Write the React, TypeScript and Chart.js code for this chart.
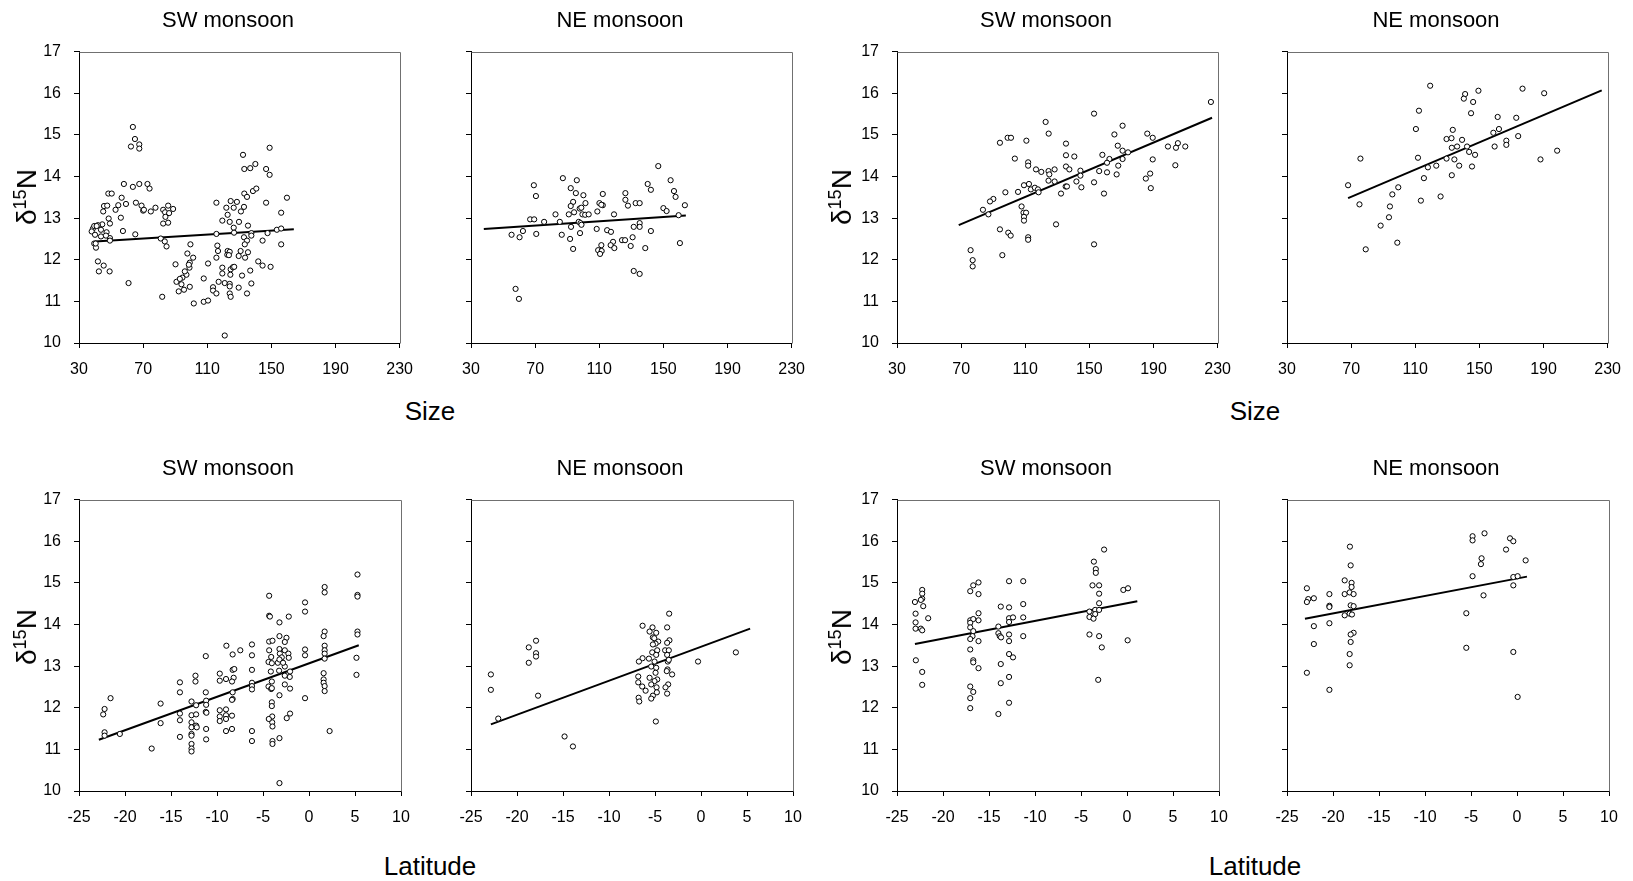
import React, { useEffect, useRef } from "react";
import { Chart, registerables } from "chart.js";

Chart.register(...registerables);

type Pt = [number, number];

// ---------- tick labels ----------
const sizeTicks = [30, 70, 110, 150, 190, 230];
const latTicks = [-25, -20, -15, -10, -5, 0, 5, 10];
const d15NTicks = [10, 11, 12, 13, 14, 15, 16, 17];

// ---------- titles ----------
const seasonTitles = ["SW monsoon", "NE monsoon", "SW monsoon", "NE monsoon"];
const xTitles = ["Size", "Latitude"];

// ---------- Size panels, group A ----------
const sizeA_SW: Pt[] = [
  [63.6,15.19],[64.9,14.9],[62.4,14.72],[67.6,14.77],[67.6,14.67],[132.3,14.52],[148.9,14.69],[140,14.3],[136.8,14.2],[133.1,14.18],[146.7,14.18],[148.9,14.04],[58,13.82],[63.6,13.75],[67.6,13.82],[72.7,13.82],[74,13.71],[133.1,13.59],[134.8,13.51],[138.5,13.65],[140.6,13.71],[159.7,13.49],[48.3,13.59],[50.4,13.59],[56.6,13.49],[54.5,13.31],[59.3,13.34],[45.6,13.29],[47.6,13.3],[52.8,13.2],[45.1,13.16],[65.5,13.37],[69,13.3],[70,13.18],[70.5,13.2],[74.8,13.16],[77.7,13.25],[82.5,13.2],[85.6,13.3],[88.7,13.22],[83.7,13.14],[86.2,13.12],[83.9,13.03],[82.5,12.87],[85.6,12.89],[56.1,13.01],[48.5,12.99],[49.3,12.87],[44.5,12.85],[115.7,13.37],[124.6,13.41],[128.5,13.39],[121.9,13.25],[126.5,13.25],[132.9,13.27],[131,13.16],[122.7,13.08],[156.1,13.13],[146.7,13.37],[119.4,12.94],[124,12.91],[129.8,12.91],[126.5,12.77],[135.4,12.82],[115.7,12.62],[126.7,12.65],[137.5,12.64],[137.5,12.58],[132.9,12.54],[147.6,12.64],[153.4,12.72],[156.1,12.75],[144.5,12.46],[156.1,12.37],[134.8,12.46],[133.4,12.37],[116.3,12.34],[116.7,12.21],[122.7,12.21],[124,12.19],[122.5,12.12],[123.5,12.11],[130.8,12.21],[135.4,12.18],[129.6,12.09],[133.6,12.05],[115.7,12.05],[119.4,11.81],[119.4,11.67],[124.6,11.77],[126,11.82],[126.8,11.83],[124.4,11.64],[141.8,11.96],[144.5,11.86],[149.5,11.83],[136.8,11.74],[131.7,11.62],[110.5,11.91],[107.8,11.55],[113.6,11.34],[113.6,11.26],[115.7,11.19],[117.1,11.47],[120.9,11.44],[124,11.42],[124,11.36],[124,11.19],[124.6,11.11],[129.6,11.33],[137.5,11.43],[134.8,11.19],[107.8,10.99],[110.5,11.02],[101.6,10.95],[120.9,10.18],[99.5,12.37],[101.2,12.05],[97.6,12.15],[99.1,11.93],[98.9,11.81],[98.5,11.88],[97,11.64],[96,11.72],[94.5,11.57],[90.2,11.89],[90.8,11.47],[92.9,11.54],[93.9,11.41],[95.5,11.28],[92.2,11.24],[99.1,11.35],[81.9,11.11],[60.9,11.44],[41.8,11.96],[42.4,11.72],[45.4,11.86],[49.1,11.72],[39.5,12.39],[40.6,12.29],[43.7,12.56],[47.2,12.66],[49.3,12.52],[49.3,12.46],[46.8,12.58],[57.4,12.69],[65.1,12.61],[81,12.51],[83.5,12.44],[84.6,12.32],[43.7,12.72],[41.8,12.83],[38.7,12.75],[37.9,12.68],[39.5,12.81],[41,12.81],[40,12.6],[40.4,12.39]
];
const sizeA_SW_fit: Pt[] = [[40, 12.44], [164, 12.73]];

const sizeA_NE: Pt[] = [
  [146.8,14.25],[87.3,13.96],[96,13.91],[154.5,13.91],[69.2,13.79],[140.2,13.82],[142.2,13.68],[92.2,13.72],[95.4,13.6],[112.2,13.58],[126.3,13.6],[156.6,13.65],[157.6,13.51],[70.5,13.53],[100.1,13.55],[126.3,13.44],[93.7,13.39],[101.4,13.36],[110.1,13.36],[112.2,13.31],[111.3,13.32],[92.2,13.29],[127.9,13.3],[132.7,13.36],[135.2,13.36],[150,13.24],[152,13.17],[163.4,13.31],[97.8,13.23],[98.8,13.25],[94.3,13.14],[91,13.09],[82.7,13.09],[99.5,13.09],[101.2,13.08],[103.4,13.09],[108.8,13.16],[119.2,13.09],[159.5,13.07],[66.9,12.97],[69.4,12.97],[75.6,12.91],[85.4,12.91],[97.2,12.91],[98.3,12.88],[98.9,12.84],[92.4,12.79],[131.5,12.79],[135.2,12.88],[135.2,12.79],[108.4,12.74],[114.9,12.71],[117.3,12.67],[142.2,12.69],[62.4,12.69],[55.3,12.6],[60.3,12.54],[70.7,12.62],[86.6,12.6],[98,12.64],[91.8,12.5],[124.2,12.47],[126.1,12.47],[118.6,12.43],[130.8,12.54],[160.3,12.4],[117.1,12.35],[111.3,12.35],[119.4,12.28],[129.6,12.33],[138.7,12.28],[93.7,12.26],[109.3,12.23],[111.5,12.21],[110.5,12.14],[131.5,11.73],[135.2,11.66],[57.8,11.3],[59.9,11.06]
];
const sizeA_NE_fit: Pt[] = [[38, 12.74], [164, 13.06]];

// ---------- Size panels, group B ----------
const sizeB_SW: Pt[] = [
  [152.9,15.51],[122.7,15.31],[124.6,15.03],[170.7,15.22],[186.1,15.03],[165.6,15.01],[189.5,14.93],[94.2,14.81],[99,14.93],[101.1,14.93],[110.7,14.86],[135.4,14.79],[167.7,14.74],[170.7,14.62],[174.1,14.58],[199,14.72],[205.2,14.8],[204,14.69],[209.8,14.72],[135.4,14.51],[140.6,14.48],[158.1,14.52],[162.5,14.42],[170.7,14.42],[103.5,14.43],[111.8,14.34],[111.8,14.26],[161,14.33],[135.4,14.24],[137.5,14.17],[116.7,14.17],[120,14.11],[124.5,14.13],[128.3,14.17],[144.4,14.14],[156.1,14.13],[161,14.1],[168,14.26],[189.5,14.41],[203.6,14.27],[125,14.05],[144.4,14.02],[167,14.05],[187.9,14.07],[185.2,13.95],[124.5,13.9],[128.3,13.88],[141.9,13.88],[152.9,13.86],[109.2,13.79],[112.3,13.82],[113.5,13.69],[116,13.73],[117.9,13.69],[118.3,13.62],[105.5,13.63],[97.6,13.62],[135.2,13.76],[136,13.76],[145,13.74],[132.3,13.59],[159.1,13.59],[188.3,13.72],[90.1,13.46],[88,13.4],[83.6,13.2],[87,13.09],[107.7,13.28],[108.9,13.13],[110.5,13.13],[109.2,13.03],[109.2,12.94],[129.2,12.85],[94.2,12.73],[99.4,12.65],[100.9,12.58],[111.8,12.54],[111.8,12.48],[152.9,12.37],[75.9,12.23],[95.7,12.11],[77.2,11.99],[77.2,11.84],[225.8,15.79]
];
const sizeB_SW_fit: Pt[] = [[68.5, 12.83], [226.5, 15.41]];

const sizeB_NE: Pt[] = [
  [119.3,16.18],[176.9,16.11],[149.4,16.06],[141.1,15.98],[190.4,16],[140.3,15.87],[146.1,15.79],[112.3,15.58],[144.8,15.52],[161.4,15.43],[173,15.41],[110.4,15.14],[133.4,15.12],[162.2,15.14],[158.7,15.05],[174.2,14.97],[129.5,14.9],[132.6,14.92],[139.2,14.88],[166.8,14.86],[166.8,14.76],[142.3,14.72],[132.8,14.69],[136.1,14.72],[159.5,14.72],[143.6,14.59],[147.3,14.52],[198.5,14.62],[111.7,14.45],[129.5,14.43],[134.4,14.41],[188.1,14.41],[75.8,14.43],[117.9,14.22],[123.1,14.26],[137.4,14.26],[145.4,14.24],[115.4,13.96],[132.8,14.03],[68.1,13.79],[99.4,13.74],[95.7,13.57],[125.8,13.52],[113.5,13.42],[75.2,13.33],[94.2,13.28],[93.6,13.02],[88.4,12.82],[98.8,12.41],[79.1,12.25]
];
const sizeB_NE_fit: Pt[] = [[68.1, 13.48], [226.3, 16.07]];

// ---------- Latitude panels, group A ----------
const latA_SW: Pt[] = [
  [5.27,15.2],[1.7,14.9],[1.7,14.77],[5.27,14.71],[5.27,14.67],[-4.33,14.69],[-0.43,14.53],[-0.43,14.31],[-4.33,14.21],[-4.25,14.19],[-2.2,14.19],[-3.21,14.05],[1.7,13.83],[5.27,13.83],[5.27,13.76],[1.59,13.72],[1.7,13.49],[-3.21,13.72],[-2.45,13.68],[-4.33,13.59],[-3.97,13.61],[-2.63,13.58],[-6.2,13.52],[-8.98,13.49],[-7.47,13.38],[-8.3,13.28],[-6.2,13.26],[-11.22,13.24],[-0.43,13.4],[-0.43,13.26],[-3.21,13.41],[-4.33,13.38],[-2.63,13.38],[-2.24,13.3],[-2.2,13.2],[-3.17,13.3],[-2.96,13.21],[1.7,13.38],[1.7,13.3],[1.7,13.18],[5.16,13.2],[-4.11,13.22],[-4.4,13.1],[-4.04,13.07],[-3.39,13.08],[-3.21,13.16],[-4.15,12.87],[-3.25,12.89],[-2.63,12.99],[-2.06,12.87],[-6.2,12.91],[-8.3,12.91],[-8.12,12.93],[-9.7,12.82],[-9.02,12.69],[-8.19,12.72],[-8.37,12.63],[-9.7,12.65],[-12.34,12.77],[-12.34,12.63],[-14.03,12.61],[-2.63,12.77],[-2.09,12.74],[-4.04,12.63],[-4.4,12.51],[-4.11,12.45],[-4.04,12.47],[-2.63,12.56],[-2.06,12.46],[-6.2,12.6],[-6.2,12.52],[-6.2,12.44],[1.59,12.83],[1.59,12.68],[1.59,12.6],[1.7,12.52],[1.7,12.4],[5.16,12.79],[-8.3,12.37],[-11.22,12.37],[-14.03,12.37],[-8.3,12.21],[-8.37,12.19],[-0.43,12.23],[-3.21,12.3],[-4.04,12.13],[-4.04,12.04],[-12.27,12.06],[-11.18,12.17],[-11.18,12.07],[-12.77,12.15],[-16.13,12.1],[-21.57,12.23],[-22.22,11.97],[-22.37,11.84],[-14.03,11.86],[-14.03,11.7],[-12.77,11.82],[-12.27,11.84],[-11.22,11.9],[-11.15,11.88],[-9.7,11.94],[-9.7,11.79],[-9.7,11.68],[-9.02,11.96],[-9.02,11.82],[-9.02,11.73],[-8.37,11.81],[-8.37,11.49],[-9.02,11.44],[-4,11.79],[-4,11.65],[-3.97,11.55],[-4.37,11.73],[-2.42,11.75],[-2.06,11.86],[-16.13,11.63],[-12.77,11.65],[-12.77,11.53],[-12.27,11.57],[-12.2,11.53],[-11.18,11.49],[-12.77,11.37],[-12.77,11.33],[-14.03,11.3],[-12.77,11.13],[-12.77,11.02],[-12.77,10.95],[-11.18,11.24],[-6.2,11.44],[-6.2,11.2],[-3.97,11.2],[-3.97,11.13],[-3.21,11.27],[2.24,11.44],[-22.22,11.41],[-22.22,11.33],[-20.56,11.37],[-17.1,11.02],[-3.21,10.19],[-2.82,13.08]
];
const latA_SW_fit: Pt[] = [[-22.84, 11.23], [5.41, 13.5]];

const latA_NE: Pt[] = [
  [-3.46,14.26],[-6.35,13.97],[-5.27,13.93],[-3.68,13.93],[-5.59,13.83],[-4.87,13.8],[-5.23,13.69],[-5.08,13.67],[-3.43,13.62],[-4.65,13.59],[-3.68,13.56],[-4.94,13.54],[-5.23,13.52],[-3.9,13.38],[-3.5,13.38],[-4.76,13.38],[-5.3,13.33],[-3.68,13.27],[-4.87,13.27],[-6.35,13.19],[-5.66,13.18],[-6.75,13.11],[-3.61,13.11],[-3.5,13.15],[-5.05,13.11],[-5.41,12.99],[-4.87,12.96],[-3.64,12.92],[-3.72,12.88],[-3.14,12.8],[-4.94,12.84],[-6.82,12.75],[-5.59,12.72],[-4.76,12.68],[-5.05,12.64],[-6.82,12.61],[-5.41,12.56],[-3.57,12.56],[-4.83,12.49],[-6.39,12.51],[-3.86,12.49],[-6.02,12.41],[-4.8,12.37],[-3.68,12.34],[-5.23,12.29],[-5.41,12.22],[-6.78,12.24],[-6.71,12.15],[-4.91,11.67],[3.79,13.33],[-0.32,13.11],[-17.93,13.61],[-18.72,13.45],[-17.93,13.31],[-17.93,13.23],[-18.72,13.08],[-22.84,12.8],[-22.84,12.43],[-17.71,12.29],[-22.04,11.74],[-14.83,11.31],[-13.92,11.07]
];
const latA_NE_fit: Pt[] = [[-22.84, 11.6], [5.34, 13.9]];

// ---------- Latitude panels, group B ----------
const latB_SW: Pt[] = [
  [-2.49,15.8],[-3.6,15.51],[-3.39,15.33],[-3.39,15.24],[-16.14,15.01],[-16.71,14.94],[-12.82,15.04],[-11.28,15.04],[-3.75,14.94],[-3.03,14.94],[-3.03,14.74],[-0.4,14.83],[0.11,14.87],[-22.26,14.83],[-22.26,14.74],[-17.04,14.8],[-16.14,14.73],[-22.26,14.62],[-22.41,14.59],[-23.05,14.54],[-3.03,14.51],[-11.28,14.49],[-22.15,14.44],[-13.72,14.43],[-12.82,14.41],[-3.46,14.35],[-3.03,14.35],[-4.08,14.31],[-22.98,14.26],[-16.14,14.27],[-3.46,14.25],[-4.08,14.18],[-3.64,14.14],[-12.82,14.15],[-12.39,14.17],[-11.28,14.17],[-21.61,14.15],[-16.14,14.1],[-17.04,14.1],[-16.71,14.13],[-12.82,14.06],[-22.98,14.05],[-17.04,14.04],[-17.04,13.93],[-13.98,13.95],[-22.98,13.9],[-22.41,13.9],[-22.26,13.86],[-16.71,13.84],[-13.98,13.79],[-12.82,13.76],[-13.83,13.72],[-13.69,13.69],[-16.79,13.72],[-17.04,13.65],[-11.28,13.72],[-4.08,13.76],[-3.03,13.72],[-12.82,13.6],[-16.14,13.6],[0.07,13.62],[-2.74,13.45],[-17.04,13.4],[-12.82,13.29],[-12.39,13.21],[-22.95,13.14],[-16.71,13.14],[-16.71,13.09],[-13.72,13.05],[-16.14,12.95],[-22.26,12.86],[-12.82,12.74],[-3.13,12.67],[-13.72,12.59],[-22.26,12.55],[-17.04,12.51],[-16.71,12.38],[-17.04,12.23],[-12.82,12.12],[-17.04,11.99],[-13.98,11.85]
];
const latB_SW_fit: Pt[] = [[-23.05, 13.53], [1.12, 14.56]];

const latB_NE: Pt[] = [
  [-3.53,16.19],[-4.83,16.12],[-4.83,16.02],[-0.76,16.07],[-0.4,16],[-1.19,15.8],[0.94,15.54],[-3.85,15.59],[-3.92,15.45],[-18.16,15.87],[-18.08,15.42],[-4.83,15.16],[-0.4,15.14],[0.07,15.16],[-0.4,14.94],[-18.73,15.06],[-17.98,15],[-17.98,14.9],[-22.84,14.87],[-22.69,14.61],[-22.84,14.54],[-22.08,14.63],[-20.39,14.73],[-18.73,14.73],[-18.19,14.77],[-17.76,14.73],[-3.64,14.7],[-20.39,14.45],[-20.39,14.42],[-18.08,14.46],[-17.76,14.44],[-18.73,14.22],[-18.19,14.26],[-17.94,14.24],[-5.51,14.27],[-20.39,14.03],[-22.08,13.96],[-17.76,13.8],[-18.08,13.76],[-18.08,13.58],[-22.08,13.53],[-5.51,13.44],[-0.4,13.34],[-18.19,13.29],[-18.19,13.02],[-22.84,12.84],[-20.39,12.43],[0.07,12.26]
];
const latB_NE_fit: Pt[] = [[-23.05, 14.14], [1.08, 15.15]];

// ---------- layout ----------
const FONT = "'Liberation Sans', Arial, Helvetica, sans-serif";
const COL_LEFT = [79, 471, 897, 1287];
const ROW_TOP = [43, 491];
const PLOT_W = 322;
const PLOT_H = 300;
const PAD_L = 50;
const PAD_R = 24;
const PAD_T = 14;
const PAD_B = 44;

Chart.defaults.font.family = FONT;
Chart.defaults.color = "#000";

interface PanelSpec {
  row: number;
  col: number;
  points: Pt[];
  fit: Pt[];
  xTicks: number[];
}

const panels: PanelSpec[] = [
  { row: 0, col: 0, points: sizeA_SW, fit: sizeA_SW_fit, xTicks: sizeTicks },
  { row: 0, col: 1, points: sizeA_NE, fit: sizeA_NE_fit, xTicks: sizeTicks },
  { row: 0, col: 2, points: sizeB_SW, fit: sizeB_SW_fit, xTicks: sizeTicks },
  { row: 0, col: 3, points: sizeB_NE, fit: sizeB_NE_fit, xTicks: sizeTicks },
  { row: 1, col: 0, points: latA_SW, fit: latA_SW_fit, xTicks: latTicks },
  { row: 1, col: 1, points: latA_NE, fit: latA_NE_fit, xTicks: latTicks },
  { row: 1, col: 2, points: latB_SW, fit: latB_SW_fit, xTicks: latTicks },
  { row: 1, col: 3, points: latB_NE, fit: latB_NE_fit, xTicks: latTicks },
];

const framePlugin = {
  id: "frame",
  afterDraw(chart: any) {
    const { ctx, chartArea: a } = chart;
    ctx.save();
    ctx.strokeStyle = "#707070";
    ctx.lineWidth = 1;
    ctx.beginPath();
    ctx.moveTo(Math.round(a.left) + 0.5, Math.round(a.top) + 0.5);
    ctx.lineTo(Math.round(a.right) + 0.5, Math.round(a.top) + 0.5);
    ctx.lineTo(Math.round(a.right) + 0.5, Math.round(a.bottom) + 0.5);
    ctx.stroke();
    ctx.restore();
  },
};

function Panel({ spec }: { spec: PanelSpec }) {
  const ref = useRef<HTMLCanvasElement>(null);
  const W = PAD_L + PLOT_W + PAD_R;
  const H = PAD_T + PLOT_H + PAD_B;
  const left = COL_LEFT[spec.col] - PAD_L;
  const top = ROW_TOP[spec.row] - PAD_T;
  const showY = spec.col === 0 || spec.col === 2;
  const xPadding = 12;

  useEffect(() => {
    if (!ref.current) return;
    const xt = spec.xTicks;
    const chart = new Chart(ref.current, {
      type: "scatter",
      data: {
        datasets: [
          {
            data: spec.points.map(([x, y]) => ({ x, y })),
            pointRadius: 2.6,
            pointBorderWidth: 1,
            pointBorderColor: "#000",
            pointBackgroundColor: "#fff",
            showLine: false,
            order: 0,
          } as any,
          {
            data: spec.fit.map(([x, y]) => ({ x, y })),
            showLine: true,
            borderColor: "#000",
            borderWidth: 2,
            pointRadius: 0,
            fill: false,
            order: 1,
          } as any,
        ],
      },
      options: {
        responsive: false,
        maintainAspectRatio: false,
        animation: false,
        devicePixelRatio: 1,
        layout: { padding: { top: PAD_T, right: PAD_R, left: 0, bottom: 0 } },
        plugins: { legend: { display: false }, tooltip: { enabled: false }, title: { display: false } },
        scales: {
          x: {
            type: "linear",
            min: xt[0],
            max: xt[xt.length - 1],
            afterBuildTicks: (s: any) => {
              s.ticks = xt.map((v) => ({ value: v }));
            },
            afterFit: (s: any) => {
              s.height = PAD_B;
            },
            ticks: { color: "#000", font: { size: 16, family: FONT }, padding: xPadding, maxRotation: 0, autoSkip: false },
            grid: { drawOnChartArea: false, drawTicks: true, tickLength: 5, color: "#000", lineWidth: 1 },
            border: { display: true, color: "#000", width: 1 },
          },
          y: {
            type: "linear",
            min: d15NTicks[0],
            max: d15NTicks[d15NTicks.length - 1],
            afterBuildTicks: (s: any) => {
              s.ticks = d15NTicks.map((v) => ({ value: v }));
            },
            afterFit: (s: any) => {
              s.width = PAD_L;
            },
            ticks: {
              color: "#000",
              font: { size: 16, family: FONT },
              padding: 13,
              autoSkip: false,
              callback: (v: any) => (showY ? String(v) : ""),
            },
            grid: { drawOnChartArea: false, drawTicks: true, tickLength: 5, color: "#000", lineWidth: 1 },
            border: { display: true, color: "#000", width: 1 },
          },
        },
      } as any,
      plugins: [framePlugin],
    });
    return () => chart.destroy();
  }, []);

  return (
    <canvas
      ref={ref}
      width={W}
      height={H}
      style={{ position: "absolute", left, top, width: W, height: H }}
    />
  );
}

const textStyle: React.CSSProperties = {
  position: "absolute",
  fontFamily: FONT,
  color: "#000",
  whiteSpace: "nowrap",
  lineHeight: 1,
  transform: "translate(-50%, -50%)",
};

export default function App() {
  const titleY = [20, 468];
  const xTitleY = [411, 866];
  const xTitleX = [430, 1255];
  const yTitleX = [27, 842];
  const yTitleY = [197, 637];

  return (
    <div style={{ position: "absolute", left: 0, top: 0, width: 1633, height: 881, background: "#fff", overflow: "hidden" }}>
      {panels.map((p, i) => (
        <Panel key={i} spec={p} />
      ))}
      {[0, 1].map((r) =>
        seasonTitles.map((t, c) => (
          <div
            key={`t${r}${c}`}
            style={{ ...textStyle, left: COL_LEFT[c] + PLOT_W / 2 - 12, top: titleY[r], fontSize: 22 }}
          >
            {t}
          </div>
        ))
      )}
      {[0, 1].map((r) =>
        xTitleX.map((x, k) => (
          <div key={`x${r}${k}`} style={{ ...textStyle, left: x, top: xTitleY[r], fontSize: 26 }}>
            {xTitles[r]}
          </div>
        ))
      )}
      {[0, 1].map((r) =>
        yTitleX.map((x, k) => (
          <div
            key={`y${r}${k}`}
            style={{ ...textStyle, left: x, top: yTitleY[r], fontSize: 28, transform: "translate(-50%, -50%) rotate(-90deg)" }}
          >
            δ<sup style={{ fontSize: 18, verticalAlign: "0.55em", lineHeight: 0 }}>15</sup>N
          </div>
        ))
      )}
    </div>
  );
}
